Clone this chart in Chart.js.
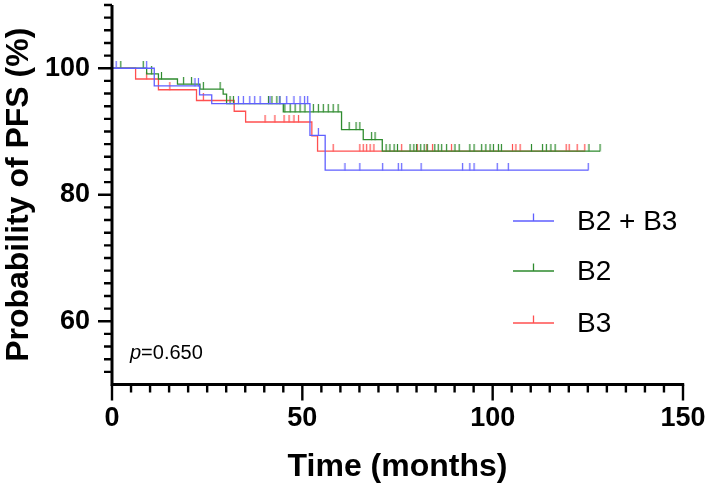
<!DOCTYPE html>
<html lang="en">
<head>
<meta charset="UTF-8">
<title>PFS by group</title>
<script src="https://cdn.jsdelivr.net/npm/chart.js"></script>
<style>
  html, body { margin: 0; padding: 0; background: #fff; }
  .chart-box { width: 709px; height: 487px; }
</style>
</head>
<body>
<div class="chart-box"><canvas id="pfs-chart"></canvas></div>
<script>
// Kaplan-Meier steps: time in months, PFS in %
const groupNames = ['B2 + B3', 'B2', 'B3'];
const groupColors = ['#5f5fff', '#2e8b2e', '#ff5050'];

const b23Times = [0, 11.1, 23.0, 26.2, 52.0, 56.0];
const b23Surv = [100, 97.2, 95.8, 94.4, 89.4, 83.9];
const b23End = 125.1;
const b23Censor = [1.1, 9.1, 21.8, 22.7, 33.2, 34.5, 36.2, 37.5, 38.9, 41.5, 44.1, 45.9, 47.8, 49.4,
    50.6, 51.4, 54.2, 61.2, 65.1, 71.1, 75.2, 76.1, 81.2, 92.1, 94.0, 95.1, 101.2, 104.1, 125.1];

const b2Times = [0, 9.1, 12.2, 17.2, 23.1, 29.2, 30.1, 45.0, 60.3, 66.0, 71.0];
const b2Surv = [100, 99.1, 98.3, 97.5, 96.7, 95.9, 94.4, 93.1, 90.3, 88.7, 86.9];
const b2End = 128.2;
const b2Censor = [2.3, 8.2, 10.4, 13.0, 18.8, 20.9, 24.0, 28.4, 31.0, 31.9, 41.1, 42.0, 43.3, 44.1,
    45.4, 46.8, 48.1, 49.4, 50.7, 52.9, 54.2, 55.5, 56.8, 58.1, 59.4, 62.3, 64.1, 65.1, 68.2, 69.1,
    72.0, 73.0, 74.1, 75.0, 78.3, 79.3, 80.0, 81.1, 82.0, 82.8, 84.8, 85.7, 86.6, 87.9, 90.1, 91.2,
    94.0, 95.1, 97.1, 98.2, 99.3, 100.2, 101.5, 102.3, 110.2, 113.1, 114.1, 115.3, 116.4, 125.3, 128.2];

const b3Times = [0, 6.2, 12.2, 22.2, 32.1, 35.1, 52.5, 54.0];
const b3Surv = [100, 98.3, 96.6, 94.9, 93.2, 91.5, 89.3, 86.9];
const b3End = 124.2;
const b3Censor = [9.1, 15.2, 24.0, 40.2, 42.8, 45.2, 46.5, 47.8, 49.0, 58.1, 65.1, 66.0, 66.9, 67.8,
    68.8, 76.1, 80.2, 82.7, 84.2, 89.2, 105.2, 106.1, 107.2, 119.3, 120.1, 122.2, 124.2];

const xTicks = [0, 50, 100, 150];
const yTicks = [60, 80, 100];
const pValueText = '=0.650';

const FONT = '"Liberation Sans", Arial, Helvetica, sans-serif';

// survival value in effect at time t (step function lookup)
function survAt(times, surv, t) {
    let v = surv[0];
    for (let i = 0; i < times.length; i++) {
        if (times[i] <= t) v = surv[i];
    }
    return v;
}

function stepPoints(times, surv, end) {
    const pts = times.map((t, i) => ({ x: t, y: surv[i] }));
    pts.push({ x: end, y: surv[surv.length - 1] });
    return pts;
}

// small vertical censor mark sitting on top of the line
function censorMark(color) {
    const c = document.createElement('canvas');
    c.width = 3;
    c.height = 15;
    const g = c.getContext('2d');
    g.fillStyle = color;
    g.fillRect(0.9, 0, 1.2, 7.8);
    return c;
}

const groups = [
    [b23Times, b23Surv, b23End, b23Censor],
    [b2Times, b2Surv, b2End, b2Censor],
    [b3Times, b3Surv, b3End, b3Censor]
];

const datasets = [];
groups.forEach(([times, surv, end, censor], i) => {
    datasets.push({
        label: groupNames[i],
        data: stepPoints(times, surv, end),
        showLine: true,
        stepped: true,
        borderColor: groupColors[i],
        borderWidth: 1.3,
        pointRadius: 0,
        fill: false,
        order: i
    });
    datasets.push({
        label: groupNames[i] + ' censored',
        data: censor.map(t => ({ x: t, y: survAt(times, surv, t) })),
        showLine: false,
        pointStyle: censorMark(groupColors[i]),
        pointRadius: 3,
        order: i
    });
});

// axes with major/minor ticks, legend and p value, drawn in Prism style
const prismDecor = {
    id: 'prismDecor',
    afterDraw(chart) {
        const ctx = chart.ctx;
        const x = chart.scales.x;
        const y = chart.scales.y;
        const left = x.getPixelForValue(x.min);
        const right = x.getPixelForValue(x.max);
        const bottom = y.getPixelForValue(y.min);
        const top = y.getPixelForValue(y.max);

        ctx.save();
        ctx.strokeStyle = '#000';
        ctx.lineCap = 'butt';

        // axis lines
        ctx.lineWidth = 3;
        ctx.beginPath();
        ctx.moveTo(left, top);
        ctx.lineTo(left, bottom + 1.5);
        ctx.moveTo(left - 1.5, bottom);
        ctx.lineTo(right + 1.2, bottom);
        ctx.stroke();

        // y ticks every 2, long at labelled values
        ctx.lineWidth = 2.4;
        ctx.beginPath();
        for (let v = y.min + 2; v <= y.max + 0.01; v += 2) {
            const py = y.getPixelForValue(v);
            const len = yTicks.includes(v) ? 14 : 8;
            ctx.moveTo(left - len, py);
            ctx.lineTo(left, py);
        }
        // x ticks every 5, long at labelled values
        for (let v = x.min; v <= x.max + 0.01; v += 5) {
            const px = x.getPixelForValue(v);
            const len = xTicks.includes(v) ? 16 : 8;
            ctx.moveTo(px, bottom);
            ctx.lineTo(px, bottom + len);
        }
        ctx.stroke();

        // legend
        const legendY = [221, 271, 323];
        groupNames.forEach((name, i) => {
            const ly = legendY[i];
            ctx.strokeStyle = groupColors[i];
            ctx.lineWidth = 1.3;
            ctx.beginPath();
            ctx.moveTo(513, ly);
            ctx.lineTo(554, ly);
            ctx.moveTo(533.5, ly);
            ctx.lineTo(533.5, ly - 7.5);
            ctx.stroke();
            ctx.fillStyle = '#000';
            ctx.font = '28px ' + FONT;
            ctx.textBaseline = 'middle';
            ctx.textAlign = 'left';
            ctx.fillText(name, 577, ly + 1);
        });

        // p value
        ctx.fillStyle = '#000';
        ctx.textBaseline = 'alphabetic';
        ctx.font = 'italic 20px ' + FONT;
        ctx.fillText('p', 130, 359);
        const pw = ctx.measureText('p').width;
        ctx.font = '20px ' + FONT;
        ctx.fillText(pValueText, 130 + pw, 359);
        ctx.restore();
    }
};

new Chart(document.getElementById('pfs-chart'), {
    type: 'scatter',
    data: { datasets: datasets },
    options: {
        responsive: true,
        maintainAspectRatio: false,
        animation: false,
        layout: { padding: { left: 0, right: 26, top: 3.5, bottom: 0 } },
        plugins: {
            legend: { display: false },
            tooltip: { enabled: false }
        },
        scales: {
            x: {
                type: 'linear',
                min: 0,
                max: 150,
                grid: { display: false, drawTicks: false },
                border: { display: false },
                afterBuildTicks: s => { s.ticks = xTicks.map(v => ({ value: v })); },
                afterFit: s => {
                    s.height = 102.5;
                    s.paddingLeft = 0;
                    s.paddingRight = 0;
                },
                ticks: {
                    padding: 18,
                    color: '#000',
                    maxRotation: 0,
                    font: { family: FONT, size: 27, weight: 'bold' }
                },
                title: {
                    display: true,
                    text: 'Time (months)',
                    color: '#000',
                    padding: { top: 0, bottom: 1 },
                    font: { family: FONT, size: 32, weight: 'bold' }
                }
            },
            y: {
                type: 'linear',
                min: 50,
                max: 110,
                grid: { display: false, drawTicks: false },
                border: { display: false },
                afterBuildTicks: s => { s.ticks = yTicks.map(v => ({ value: v })); },
                afterFit: s => {
                    s.width = 112;
                    s.paddingTop = 0;
                    s.paddingBottom = 0;
                },
                ticks: {
                    padding: 22,
                    color: '#000',
                    font: { family: FONT, size: 27, weight: 'bold' }
                },
                title: {
                    display: true,
                    text: 'Probability of PFS (%)',
                    color: '#000',
                    padding: { top: 0, bottom: 0 },
                    font: { family: FONT, size: 32, weight: 'bold' }
                }
            }
        }
    },
    plugins: [prismDecor]
});
</script>
</body>
</html>
